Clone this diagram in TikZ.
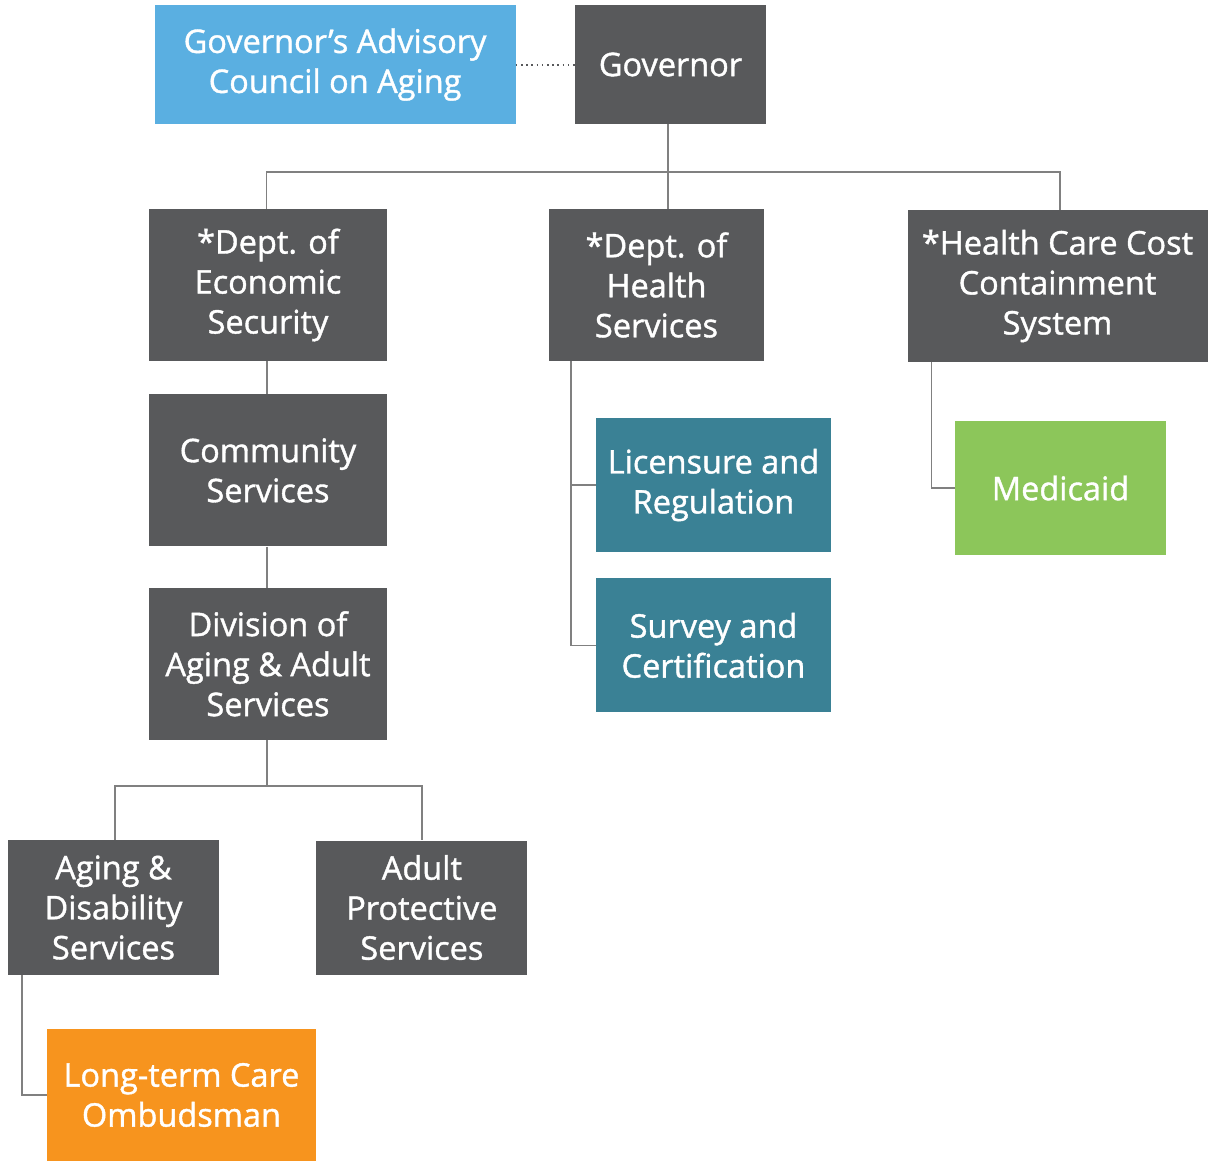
\documentclass[tikz,border=0pt]{standalone}
\usepackage{fontspec}
\setmainfont{Open Sans}
\newfontfamily\unitfont{Open Sans}[FakeBold=1.2]
\usetikzlibrary{positioning,calc}
\definecolor{boxgray}{HTML}{58595B}
\definecolor{boxblue}{HTML}{5AAFE1}
\definecolor{boxteal}{HTML}{3A8195}
\definecolor{boxgreen}{HTML}{8CC65A}
\definecolor{boxorange}{HTML}{F7941E}
\definecolor{linkgray}{HTML}{808080}
\tikzstyle{unit}=[rectangle,fill=boxgray,text=white,align=center,inner sep=0pt,
  font=\unitfont\fontsize{32.5}{40}\selectfont]
\tikzstyle{link}=[draw=linkgray,line width=1.5pt]
\begin{document}
\begin{tikzpicture}[x=1pt,y=1pt,node distance=30pt]
    \useasboundingbox (0,0) rectangle (1208,-1162);

          \node[unit,minimum width=191pt,minimum height=119pt] (gov) at (670.5,-64.5) {Governor};
          \node[unit,fill=boxblue,minimum width=361pt,minimum height=119pt] (council) [left=59pt of gov] {Governor’s Advisory\\Council on Aging};

          \node[unit,minimum width=238pt,minimum height=152pt] (d_econ) at (268,-285) {*Dept. of\\Economic\\Security};
          \node[unit,minimum width=215pt,minimum height=152pt] (d_health) at (656.5,-285) {*Dept. of\\Health\\Services};
          \node[unit,minimum width=300pt,minimum height=152pt] (d_hccc) at (1057.5,-286) {*Health Care Cost\\Containment\\System};

          \node[unit,minimum width=238pt,minimum height=152pt] (comm) [below=33pt of d_econ] {Community\\Services};
          \node[unit,minimum width=238pt,minimum height=152pt] (div) [below=41pt of comm] {Division of\\Aging \& Adult\\Services};

          \node[unit,minimum width=211pt,minimum height=135pt] (ads) at (113.5,-907.5) {Aging \&\\Disability\\Services};
          \node[unit,minimum width=211pt,minimum height=134pt] (aps) [right=97pt of ads] {Adult\\Protective\\Services};
          \node[unit,fill=boxorange,minimum width=269pt,minimum height=132pt] (ltc) at (181.5,-1095) {Long-term Care\\Ombudsman};

          \node[unit,fill=boxteal,minimum width=235pt,minimum height=134pt] (lic) at (713.5,-485) {Licensure and\\Regulation};
          \node[unit,fill=boxteal,minimum width=235pt,minimum height=134pt] (surv) [below=26pt of lic] {Survey and\\Certification};
          \node[unit,fill=boxgreen,minimum width=211pt,minimum height=134pt] (med) at (1060.5,-488) {Medicaid};

          \draw[draw=boxgray,line width=2pt,dash pattern=on 1.6pt off 3.6pt] (council.east) -- (gov.west);

          \draw[link] ([xshift=-2.5pt]gov.south) -- ([xshift=11.5pt]d_health.north);
          \draw[link] ([xshift=-1.5pt]d_econ.north) -- ++(0,37) -| ([xshift=2.5pt]d_hccc.north);
          \draw[link] ([xshift=-1pt]d_econ.south) -- ([xshift=-1pt]comm.north);
          \draw[link] ([xshift=-1pt]comm.south) -- ([xshift=-1pt]div.north);
          \draw[link] ([xshift=-1pt]div.south) -- ++(0,-46) coordinate (split);
          \draw[link] ([xshift=1.5pt]ads.north) |- (split) -| (aps.north);
          \draw[link] ([xshift=14pt]ads.south west) |- (ltc.west);
          \draw[link] ([xshift=22pt]d_health.south west) |- (lic.west);
          \draw[link] ([xshift=22pt]d_health.south west) |- (surv.west);
          \draw[link] ([xshift=24pt]d_hccc.south west) |- (med.west);
        \end{tikzpicture}
\end{document}
